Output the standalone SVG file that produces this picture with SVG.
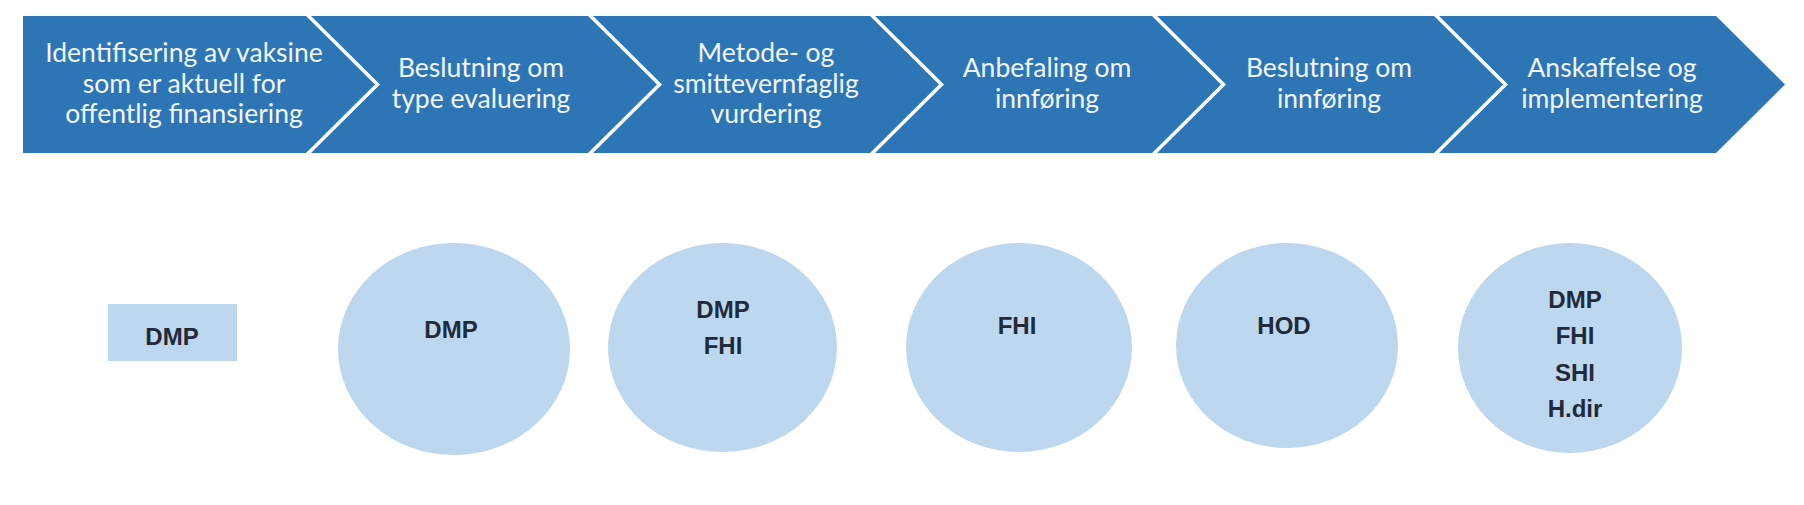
<svg xmlns="http://www.w3.org/2000/svg" width="1804" height="505" viewBox="0 0 1804 505">
<style>
.chev{fill:#2E75B6}
.ct{font-family:Lato,"Liberation Sans",sans-serif;font-size:26.5px;fill:#F2F6FB;text-anchor:middle}
.bub{fill:#BDD7EE}
.bt{font-family:"Liberation Sans",Arial,sans-serif;font-size:24px;font-weight:bold;fill:#1F2A3A;text-anchor:middle}
</style>
<rect width="1804" height="505" fill="#FFFFFF"/>
<g id="step1"><polygon class="chev" points="23,16 306,16 375,84.5 306,153 23,153"/>
<text class="ct" x="184" y="62">Identifisering av vaksine</text>
<text class="ct" x="184" y="92.5">som er aktuell for</text>
<text class="ct" x="184" y="123">offentlig finansiering</text></g>
<g id="step2"><polygon class="chev" points="311,16 588,16 657,84.5 588,153 311,153 380,84.5"/>
<text class="ct" x="481" y="77">Beslutning om</text>
<text class="ct" x="481" y="107.5">type evaluering</text></g>
<g id="step3"><polygon class="chev" points="593,16 870,16 939,84.5 870,153 593,153 662,84.5"/>
<text class="ct" x="766" y="62">Metode- og</text>
<text class="ct" x="766" y="92.5">smittevernfaglig</text>
<text class="ct" x="766" y="123">vurdering</text></g>
<g id="step4"><polygon class="chev" points="875,16 1152,16 1221,84.5 1152,153 875,153 944,84.5"/>
<text class="ct" x="1047" y="77">Anbefaling om</text>
<text class="ct" x="1047" y="107.5">innføring</text></g>
<g id="step5"><polygon class="chev" points="1157,16 1434,16 1503,84.5 1434,153 1157,153 1226,84.5"/>
<text class="ct" x="1329" y="77">Beslutning om</text>
<text class="ct" x="1329" y="107.5">innføring</text></g>
<g id="step6"><polygon class="chev" points="1439,16 1716,16 1785,84.5 1716,153 1439,153 1508,84.5"/>
<text class="ct" x="1612" y="77">Anskaffelse og</text>
<text class="ct" x="1612" y="107.5">implementering</text></g>
<g id="connectors"></g>
<g id="actor1"><rect class="bub" x="108" y="304" width="129" height="57"/>
<text class="bt" x="172" y="345">DMP</text></g>
<g id="actor2"><ellipse class="bub" cx="454" cy="349" rx="116" ry="106"/>
<text class="bt" x="451" y="338">DMP</text></g>
<g id="actor3"><ellipse class="bub" cx="722.5" cy="347.5" rx="114.5" ry="104.5"/>
<text class="bt" x="723" y="318">DMP</text>
<text class="bt" x="723" y="354">FHI</text></g>
<g id="actor4"><ellipse class="bub" cx="1019" cy="347.5" rx="113" ry="104.5"/>
<text class="bt" x="1017" y="334">FHI</text></g>
<g id="actor5"><ellipse class="bub" cx="1287" cy="345.5" rx="111" ry="102.5"/>
<text class="bt" x="1284" y="334">HOD</text></g>
<g id="actor6"><ellipse class="bub" cx="1570" cy="348" rx="112" ry="105"/>
<text class="bt" x="1575" y="308">DMP</text>
<text class="bt" x="1575" y="344">FHI</text>
<text class="bt" x="1575" y="381">SHI</text>
<text class="bt" x="1575" y="417">H.dir</text></g>
</svg>
